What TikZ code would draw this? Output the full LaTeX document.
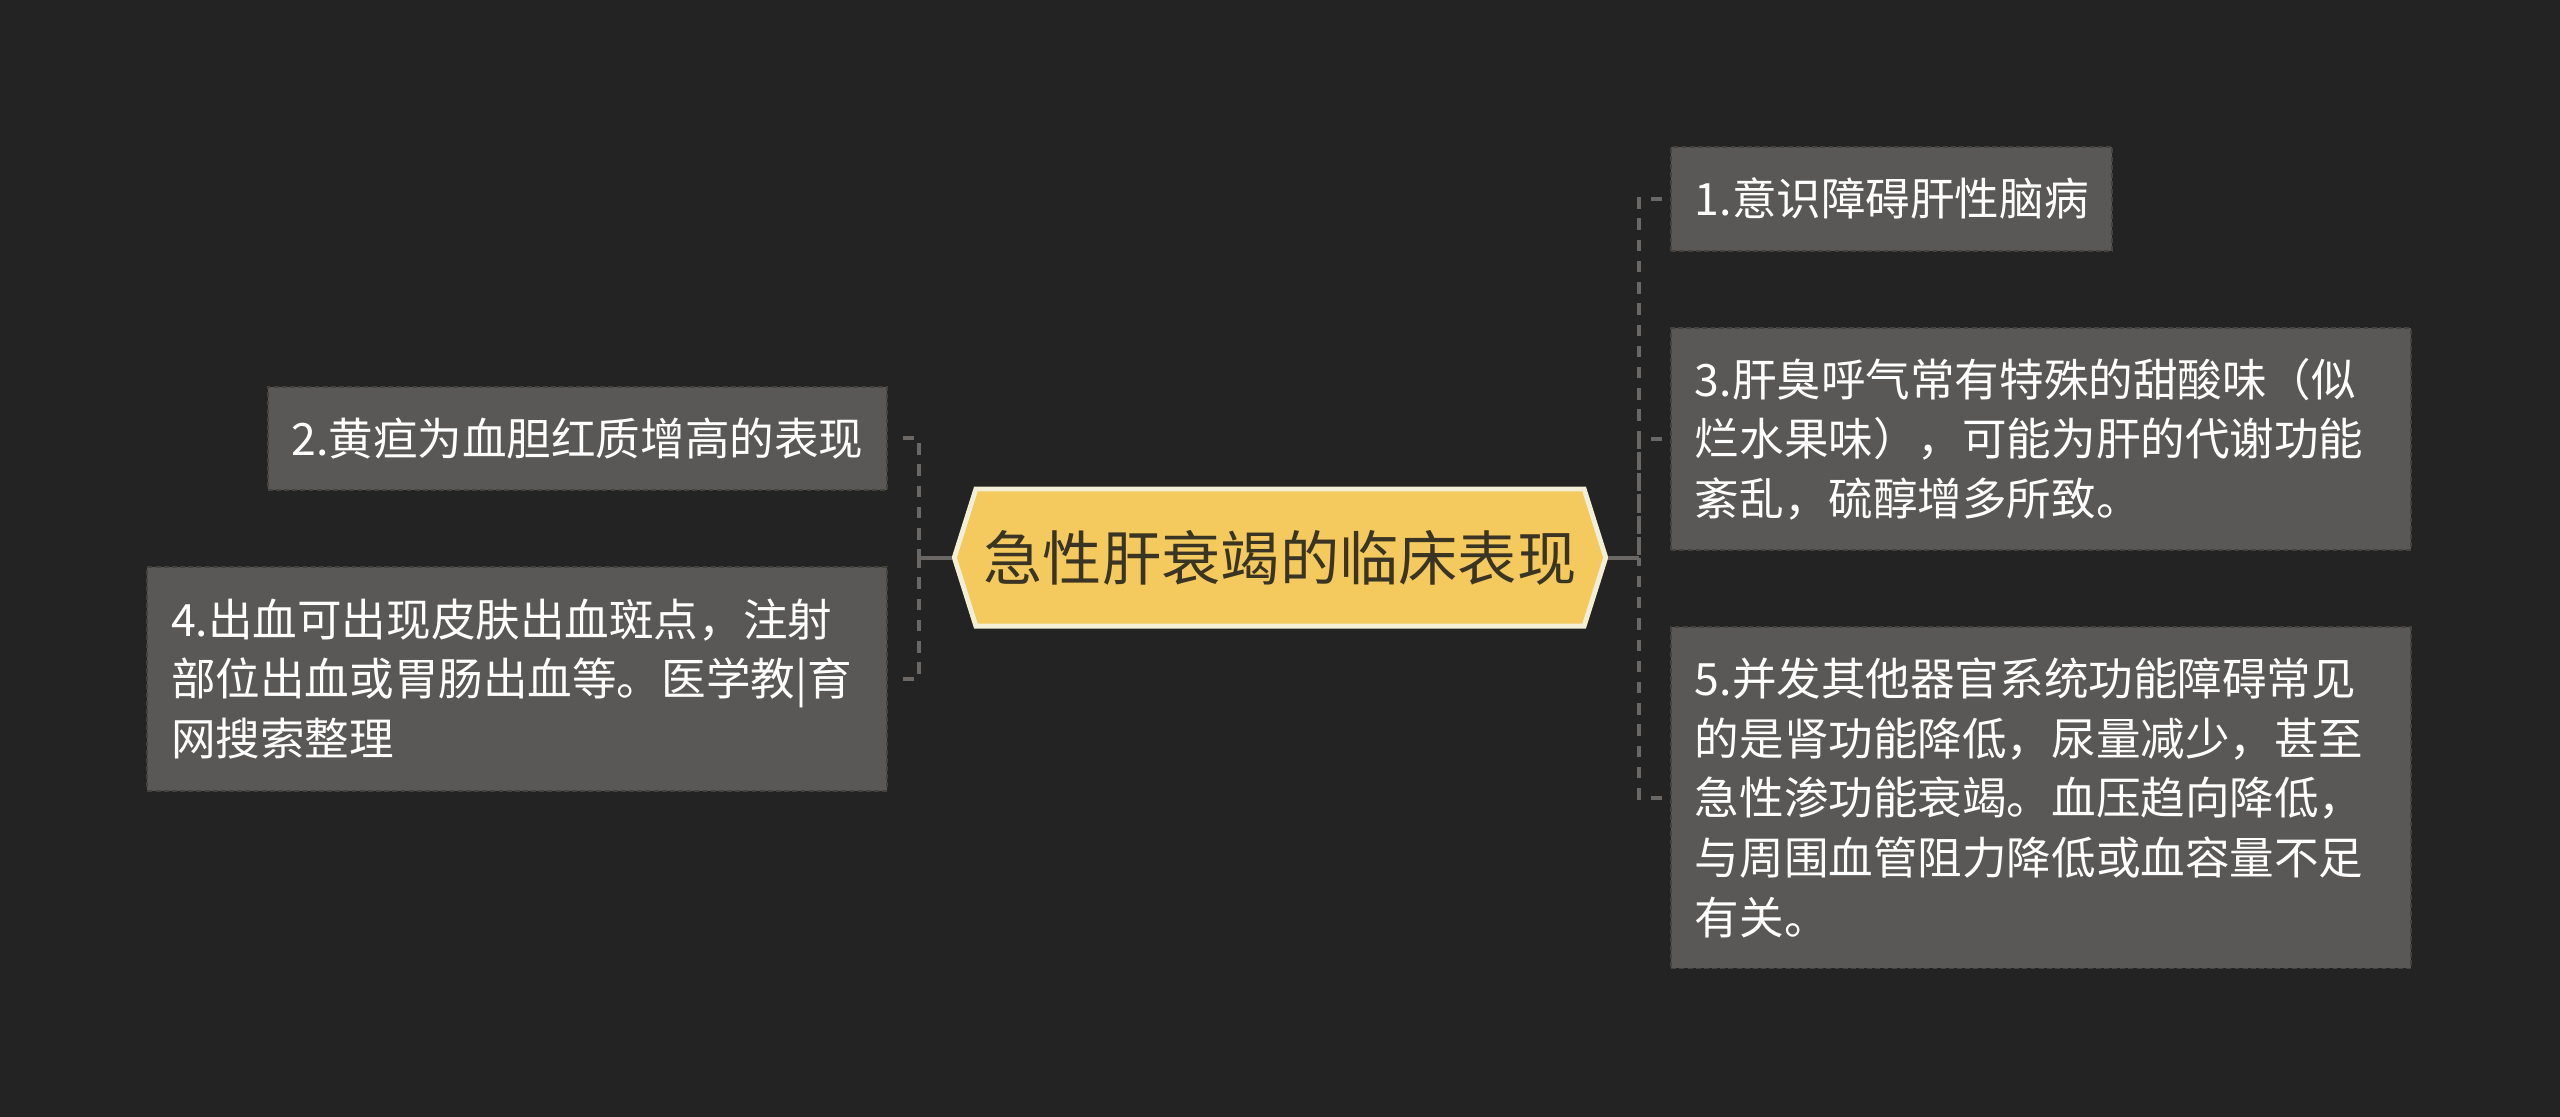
\documentclass[tikz,border=0pt]{standalone}
\usepackage{fontspec}
\newfontfamily\cjk{Noto Sans CJK SC}
\usetikzlibrary{positioning, shapes.symbols}
\definecolor{bgdark}{HTML}{232323}
\definecolor{boxgray}{HTML}{5A5856}
\definecolor{boxedge}{HTML}{44423F}
\definecolor{linegray}{HTML}{6A6866}
\definecolor{rootfill}{HTML}{F4CA5E}
\definecolor{rootedge}{HTML}{F3EFD6}
\definecolor{roottext}{HTML}{3A3424}

\begin{document}
\begin{tikzpicture}[
      x=1pt, y=1pt,
      root/.style={signal, signal to=west and east, signal pointer angle=145, draw=rootedge, line width=3pt, fill=rootfill, text=roottext, minimum width=399pt, minimum height=84pt, inner sep=0pt, font=\fontsize{36.3pt}{44pt}\selectfont\cjk},
      item/.style={draw=boxedge, dash pattern=on 3pt off 2pt, line width=1.2pt, fill=boxgray, text=white, inner xsep=14.5pt, inner ysep=0pt, align=left, font=\fontsize{27.3pt}{36.5pt}\selectfont\cjk},
      wide/.style={item, text width=424pt},
      stem/.style={draw=linegray, line width=2.5pt},
      branch/.style={draw=linegray, line width=2.5pt, dash pattern=on 7pt off 6pt},
      node distance=46pt
    ]
    \fill[bgdark] (0,0) rectangle (1568,-684);
    \node[root] (core) at (784,-341.5) {急性肝衰竭的临床表现};

    \node[wide, minimum height=136pt, right=38pt of core, yshift=72.5pt] (s3) {3.肝臭呼气常有特殊的甜酸味（似\\烂水果味），可能为肝的代谢功能\\紊乱，硫醇增多所致。};
    \node[item, minimum height=64pt, above=of s3.north west, anchor=south west] (s1) {1.意识障碍肝性脑病};
    \node[wide, minimum height=209pt, below=of s3.south west, anchor=north west] (s5) {5.并发其他器官系统功能障碍常见\\的是肾功能降低，尿量减少，甚至\\急性渗功能衰竭。血压趋向降低，\\与周围血管阻力降低或血容量不足\\有关。};

    \node[item, align=right, minimum height=63pt, left=39pt of core, yshift=73pt] (s2) {2.黄疸为血胆红质增高的表现};
    \node[wide, minimum height=137pt, below=of s2.south east, anchor=north east] (s4) {4.出血可出现皮肤出血斑点，注射\\部位出血或胃肠出血等。医学教|育\\网搜索整理};

    \draw[stem] (core.west) -- ++(-20,0) coordinate (ltrunk);
    \draw[stem] (core.east) -- ++(19,0) coordinate (rtrunk);
    \draw[branch] ([xshift=9pt]s2.east) -| (ltrunk);
    \draw[branch] ([xshift=9pt]s4.east) -| (ltrunk);
    \draw[branch] ([xshift=-5pt]s1.west) -| (rtrunk);
    \draw[branch] ([xshift=-5pt]s3.west) -| (rtrunk);
    \draw[branch] ([xshift=-5pt]s5.west) -| (rtrunk);
  \end{tikzpicture}
\end{document}
